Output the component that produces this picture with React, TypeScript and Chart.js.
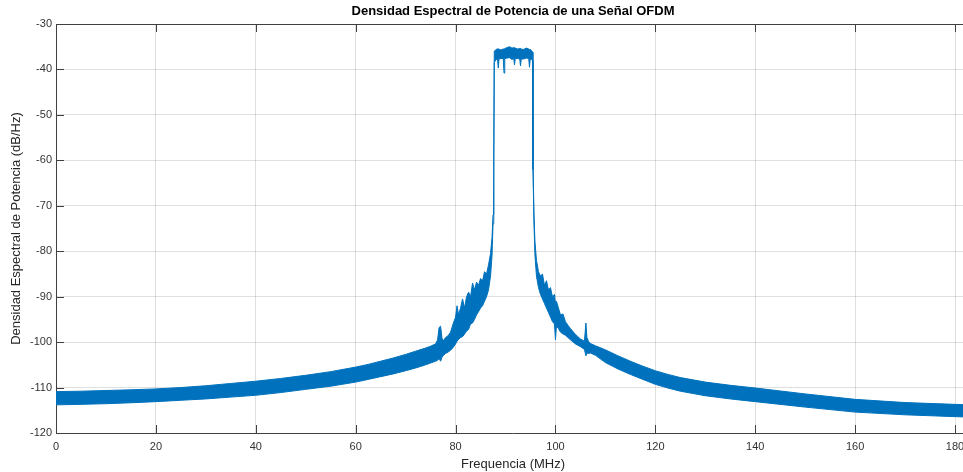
import React, { useEffect, useRef } from 'react';
import { Chart, registerables } from 'chart.js';

Chart.register(...registerables);

const chartTitle = 'Densidad Espectral de Potencia de una Señal OFDM';
const xLabel = 'Frequencia (MHz)';
const yLabel = 'Densidad Espectral de Potencia (dB/Hz)';

const xTicks = [0, 20, 40, 60, 80, 100, 120, 140, 160, 180];
const yTicks = [-120, -110, -100, -90, -80, -70, -60, -50, -40, -30];

// ---- Lower side lobe / out-of-band region (0 .. 87.65 MHz)
const leftFreqs = [
  0, 5, 10, 15, 20, 25, 30, 35, 40, 45,
  50, 55, 60, 62.5, 65, 67.5, 70, 72, 74, 75,
  76, 76.4, 76.7, 77, 77.3, 77.6, 78, 78.5, 79, 79.5,
  80, 80.3, 80.6, 81, 81.4, 81.8, 82.2, 82.6, 83, 83.4,
  83.8, 84.2, 84.6, 85, 85.4, 85.8, 86.2, 86.6, 87, 87.3,
  87.5, 87.65,
];
const leftUpper = [
  -110.9, -110.8, -110.65, -110.5, -110.3, -110.0, -109.6, -109.1, -108.6, -108.0,
  -107.3, -106.5, -105.5, -104.9, -104.2, -103.5, -102.7, -102.0, -101.3, -100.9,
  -100.4, -99.5, -96.8, -96.5, -99.3, -99.6, -99.0, -98.6, -97.8, -96.0,
  -94.5, -92.0, -94.0, -92.5, -90.5, -92.5, -90.0, -89.0, -90.0, -87.0,
  -88.5, -86.8, -87.5, -86.0, -86.5, -84.5, -85.0, -83.0, -80.5, -77.0,
  -72.0, -60.0,
];
const leftLower = [
  -113.8, -113.7, -113.55, -113.35, -113.1, -112.8, -112.5, -112.1, -111.7, -111.1,
  -110.4, -109.7, -108.8, -108.2, -107.6, -107.0, -106.3, -105.7, -105.0, -104.6,
  -104.2, -104.0, -103.6, -104.2, -103.3, -102.9, -102.5, -102.2, -101.8, -101.2,
  -100.4, -99.8, -99.4, -99.0, -98.8, -98.2, -97.6, -97.2, -96.0, -95.8,
  -95.0, -94.0, -93.3, -92.5, -92.0, -91.0, -90.0, -88.5, -85.5, -81.0,
  -74.0, -62.0,
];

// ---- OFDM passband (87.75 .. 95.4 MHz)
const passFreqs = [
  87.75, 88.1, 88.4, 88.55, 88.7, 89.1, 89.55, 89.7, 89.85, 90.3,
  90.8, 91.3, 91.65, 91.8, 91.95, 92.4, 92.85, 93.0, 93.15, 93.6,
  94.2, 94.65, 94.8, 94.95, 95.2, 95.4,
];
const passUpper = [
  -36.0, -35.6, -35.5, -35.4, -35.6, -35.7, -35.5, -35.5, -35.4, -35.2,
  -35.0, -35.3, -35.2, -35.2, -35.3, -35.5, -35.4, -35.4, -35.5, -35.6,
  -35.3, -35.5, -35.6, -35.6, -35.8, -36.2,
];
const passLower = [
  -38.5, -37.8, -37.7, -39.7, -37.7, -37.6, -37.6, -40.8, -37.6, -37.5,
  -37.4, -37.8, -37.6, -39.0, -37.6, -37.6, -37.7, -39.2, -37.7, -37.7,
  -37.5, -37.6, -39.5, -37.7, -37.8, -38.0,
];

// ---- Upper side lobe / out-of-band region (95.5 .. 183 MHz)
const rightFreqs = [
  95.5, 95.7, 95.9, 96.2, 96.6, 97, 97.4, 97.8, 98.2, 98.6,
  99, 99.4, 99.8, 100, 100.2, 100.6, 101, 101.5, 102, 102.5,
  103, 104, 105, 105.8, 106.1, 106.3, 106.6, 107, 108, 110,
  112.5, 115, 117.5, 120, 122.5, 125, 130, 135, 140, 150,
  160, 170, 180, 183,
];
const rightUpper = [
  -60.0, -72.0, -78.0, -82.0, -84.5, -85.5, -85.0, -87.5, -86.5, -88.5,
  -88.0, -90.0, -89.5, -91.5, -91.0, -92.5, -94.0, -93.8, -95.5, -96.3,
  -97.0, -98.3, -99.3, -99.8, -95.8, -99.0, -99.8, -100.3, -100.8, -101.7,
  -103.0, -104.2, -105.3, -106.3, -107.1, -107.8, -108.8, -109.5, -110.1, -111.4,
  -112.6, -113.3, -113.7, -113.8,
];
const rightLower = [
  -62.0, -74.0, -81.0, -85.5, -88.0, -89.5, -90.5, -91.5, -92.5, -93.5,
  -94.5, -95.5, -96.0, -99.5, -96.5, -97.0, -97.8, -98.2, -98.5, -99.0,
  -99.5, -100.4, -101.0, -101.6, -103.0, -102.4, -102.5, -102.4, -102.9, -104.5,
  -105.9, -107.1, -108.2, -109.3, -110.1, -110.8, -111.8, -112.5, -113.1, -114.3,
  -115.4, -116.0, -116.4, -116.5,
];

const X_MIN = 0;
const X_MAX = 183;
const Y_MIN = -120;
const Y_MAX = -30;

const LINE_COLOR = '#0072BD';
const AXIS_COLOR = '#404040';
const GRID_COLOR = 'rgba(38,38,38,0.15)';
const FONT = "'Liberation Sans', Arial, Helvetica, sans-serif";

const matlabAxes = {
  id: 'matlabAxes',
  afterDatasetsDraw(chart: any) {
    const { ctx, chartArea, scales } = chart;
    const { left, top, right, bottom } = chartArea;
    const x = scales.x;
    const y = scales.y;
    const len = 8;
    ctx.save();
    ctx.strokeStyle = AXIS_COLOR;
    ctx.lineWidth = 1;
    ctx.beginPath();
    ctx.moveTo(left, top + 0.5);
    ctx.lineTo(right, top + 0.5);
    x.ticks.forEach((t: any) => {
      const px = Math.round(x.getPixelForValue(t.value)) + 0.5;
      ctx.moveTo(px, bottom);
      ctx.lineTo(px, bottom - len);
      ctx.moveTo(px, top);
      ctx.lineTo(px, top + len);
    });
    y.ticks.forEach((t: any) => {
      const py = Math.round(y.getPixelForValue(t.value)) + 0.5;
      ctx.moveTo(left, py);
      ctx.lineTo(left + len, py);
    });
    ctx.stroke();
    ctx.restore();
  },
};

function toPoints(fs: number[], vs: number[]) {
  const n = Math.min(fs.length, vs.length);
  const out: { x: number; y: number }[] = [];
  for (let i = 0; i < n; i++) out.push({ x: fs[i], y: vs[i] });
  return out;
}

export default function App() {
  const canvasRef = useRef<HTMLCanvasElement | null>(null);

  useEffect(() => {
    const canvas = canvasRef.current;
    if (!canvas) return;
    const freqs = [...leftFreqs, ...passFreqs, ...rightFreqs];
    const upperDb = [...leftUpper, ...passUpper, ...rightUpper];
    const lowerDb = [...leftLower, ...passLower, ...rightLower];
    const upperPts = toPoints(freqs, upperDb);
    const lowerPts = toPoints(freqs, lowerDb);

    const chart = new Chart(canvas, {
      type: 'line',
      data: {
        datasets: [
          {
            label: 'upper',
            data: upperPts,
            borderColor: LINE_COLOR,
            backgroundColor: LINE_COLOR,
            borderWidth: 1,
            pointRadius: 0,
            tension: 0,
            fill: '+1',
          },
          {
            label: 'lower',
            data: lowerPts,
            borderColor: LINE_COLOR,
            backgroundColor: LINE_COLOR,
            borderWidth: 1,
            pointRadius: 0,
            tension: 0,
            fill: false,
          },
        ],
      },
      options: {
        responsive: false,
        animation: false,
        events: [],
        layout: { padding: { left: 0, right: 10, top: 0, bottom: 0 } },
        plugins: {
          legend: { display: false },
          tooltip: { enabled: false },
          title: {
            display: true,
            text: chartTitle,
            color: '#000',
            fullSize: false,
            font: { family: FONT, size: 13, weight: 'bold' },
            padding: { top: 4, bottom: 4.4 },
          },
        },
        scales: {
          x: {
            type: 'linear',
            min: X_MIN,
            max: X_MAX,
            afterBuildTicks: (s: any) => {
              s.ticks = xTicks.map((v) => ({ value: v }));
            },
            afterFit: (s: any) => {
              s.height = 39;
            },
            grid: { color: GRID_COLOR, drawTicks: false, lineWidth: 1 },
            border: { display: true, color: AXIS_COLOR, width: 1 },
            ticks: {
              color: '#333',
              font: { family: FONT, size: 11 },
              padding: 7.5,
              maxRotation: 0,
              autoSkip: false,
            },
            title: {
              display: true,
              text: xLabel,
              color: '#262626',
              font: { family: FONT, size: 13 },
              padding: { top: 0, bottom: 0 },
            },
          },
          y: {
            type: 'linear',
            min: Y_MIN,
            max: Y_MAX,
            afterBuildTicks: (s: any) => {
              s.ticks = yTicks.map((v) => ({ value: v }));
            },
            afterFit: (s: any) => {
              s.width = 56;
            },
            grid: { color: GRID_COLOR, drawTicks: false, lineWidth: 1 },
            border: { display: true, color: AXIS_COLOR, width: 1 },
            ticks: {
              color: '#333',
              font: { family: FONT, size: 11 },
              padding: 4,
              autoSkip: false,
            },
            title: {
              display: true,
              text: yLabel,
              color: '#262626',
              font: { family: FONT, size: 13 },
              padding: { top: 9, bottom: 0 },
            },
          },
        },
      },
      plugins: [matlabAxes],
    });

    return () => {
      chart.destroy();
    };
  }, []);

  return (
    <div
      style={{
        position: 'fixed',
        left: 0,
        top: 0,
        width: 963,
        height: 472,
        overflow: 'hidden',
        background: '#fff',
      }}
    >
      <canvas ref={canvasRef} width={980} height={472} style={{ display: 'block' }} />
    </div>
  );
}
